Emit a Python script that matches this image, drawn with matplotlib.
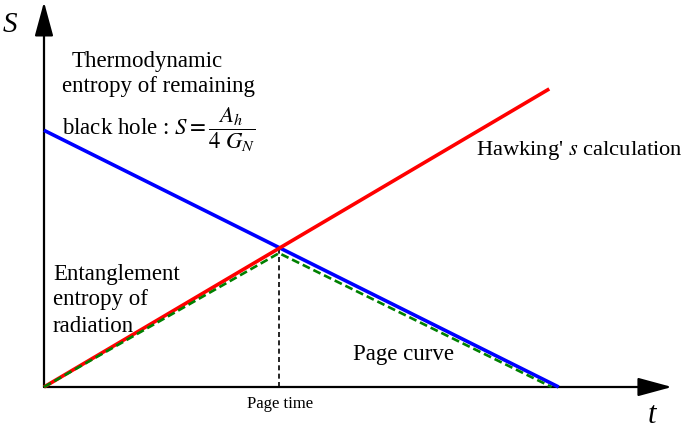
import matplotlib
matplotlib.use("Agg")
import matplotlib.pyplot as plt

# ---- data (t, S in arbitrary units; Page time = 1) ----
t_blue = [0.0, 2.19]
S_blue = [1.86, 0.0]          # thermodynamic entropy of remaining black hole
t_red = [0.0, 2.15]
S_red = [0.0, 2.16]           # Hawking's calculation
t_page_curve = [0.0, 1.0, 2.16]
S_page_curve = [0.0, 0.97, 0.0]
t_page = 1.0
S_page = 1.0
t_axis_end = 2.672
S_axis_end = 2.79

plt.rcParams['font.family'] = ['Liberation Serif', 'DejaVu Serif']
plt.rcParams['mathtext.fontset'] = 'stix'

W, H = 685, 432
fig = plt.figure(figsize=(W / 100, H / 100), dpi=100)
ax = fig.add_axes([0, 0, 1, 1])
ax.set_xlim(-44 / 235, (W - 44) / 235)
ax.set_ylim((387 - H) / 138, 387 / 138)
ax.axis('off')

# axes arrows
arrow_kw = dict(arrowstyle='-|>,head_length=1.4,head_width=0.38', mutation_scale=15,
                color='black', lw=1.6, shrinkA=0, shrinkB=0)
ax.annotate('', xy=(t_axis_end, 0), xytext=(0, 0), arrowprops=arrow_kw)
ax.annotate('', xy=(0, S_axis_end), xytext=(0, 0), arrowprops=arrow_kw)

# curves
ax.plot(t_blue, S_blue, color='#0000ff', lw=2.6, solid_capstyle='butt', zorder=3)
ax.plot(t_red, S_red, color='#ff0000', lw=2.6, solid_capstyle='butt', zorder=3)
ax.plot(t_page_curve, S_page_curve, color='#008000', lw=1.9, ls=(0, (3, 1.5)), zorder=4)
ax.plot([t_page, t_page], [0, S_page], color='black', lw=1.2, ls=(0, (3, 2)), zorder=2)


def txt(x, y, s, **kw):
    fig.text(x / W, 1 - y / H, s, va='baseline', ha='left', **kw)


fs = 16.5
txt(3, 32, 'S', fontsize=21, style='italic')
txt(648, 423, 't', fontsize=22, style='italic')
txt(72, 67, 'Thermodynamic', fontsize=fs)
txt(62, 92, 'entropy of remaining', fontsize=fs)
txt(62, 135, r'black hole : $S=\dfrac{A_h}{4\ G_N}$', fontsize=fs)
txt(476, 155, r"Hawking' $s$ calculation", fontsize=16.2)
txt(53, 280, 'Entanglement', fontsize=fs)
txt(53, 305, 'entropy of', fontsize=fs)
txt(53, 332, 'radiation', fontsize=fs)
txt(353, 360, 'Page curve', fontsize=fs)
fig.text(280 / W, 1 - 408 / H, 'Page time', fontsize=12, ha='center', va='baseline')

fig.savefig('out.png', dpi=100)
